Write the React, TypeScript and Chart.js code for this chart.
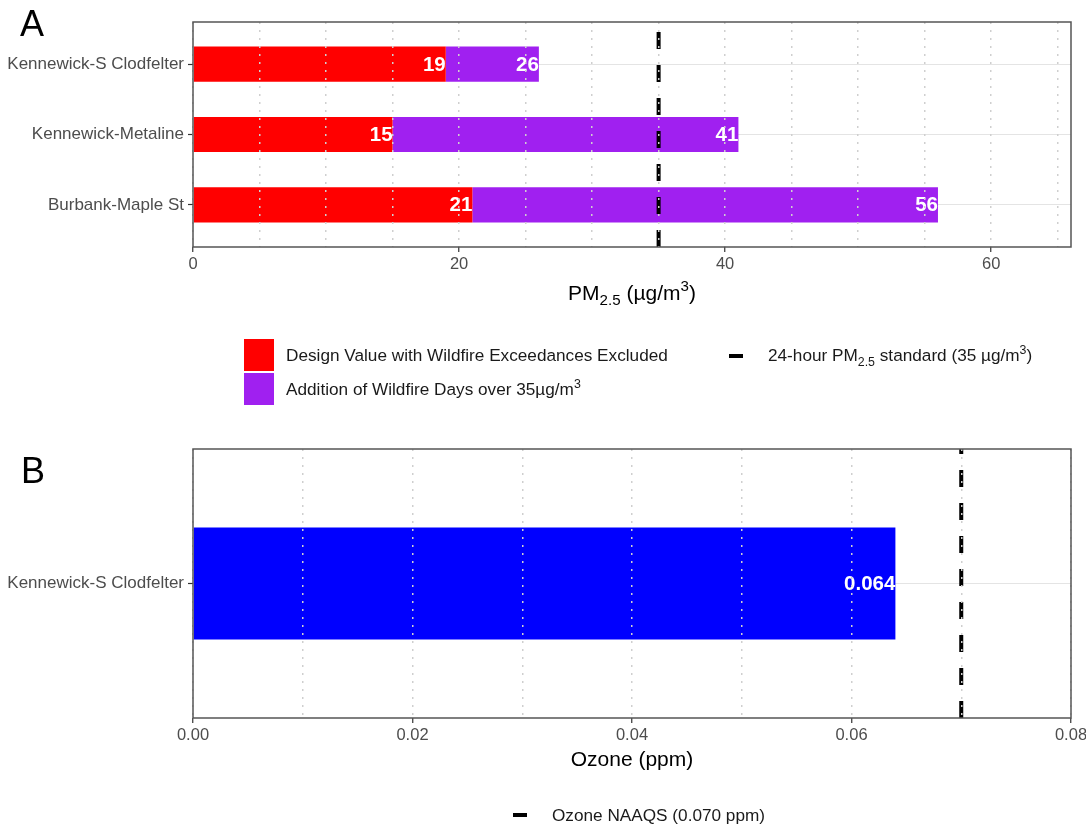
import { useEffect, useRef } from "react";
import { Chart, registerables } from "chart.js";

Chart.register(...registerables);

// ---- PM2.5 design values (µg/m³) ----
const pmSites = ["Kennewick-S Clodfelter", "Kennewick-Metaline", "Burbank-Maple St"];
const pmExcluded = [19, 15, 21];
const pmWithWildfire = [26, 41, 56];
const pmStandard = 35;
const pmAxisMax = 66;
const pmTickLabels = [0, 20, 40, 60];

// ---- Ozone design value (ppm) ----
const ozoneSites = ["Kennewick-S Clodfelter"];
const ozoneValues = [0.064];
const ozoneStandard = 0.07;
const ozoneAxisMax = 0.08;
const ozoneTickLabels = [0, 0.02, 0.04, 0.06, 0.08];

// ---- Text with sub/superscripts ----
type Seg = { t: string; k?: "sub" | "sup" };
const pmAxisTitle: Seg[] = [{ t: "PM" }, { t: "2.5", k: "sub" }, { t: " (µg/m" }, { t: "3", k: "sup" }, { t: ")" }];
const pmLegendExcluded: Seg[] = [{ t: "Design Value with Wildfire Exceedances Excluded" }];
const pmLegendWildfire: Seg[] = [{ t: "Addition of Wildfire Days over 35µg/m" }, { t: "3", k: "sup" }];
const pmLegendStandard: Seg[] = [
  { t: "24-hour PM" },
  { t: "2.5", k: "sub" },
  { t: " standard (35 µg/m" },
  { t: "3", k: "sup" },
  { t: ")" },
];
const ozoneAxisTitle: Seg[] = [{ t: "Ozone (ppm)" }];
const ozoneLegendStandard: Seg[] = [{ t: "Ozone NAAQS (0.070 ppm)" }];

const RED = "#FF0000";
const PURPLE = "#A020F0";
const BLUE = "#0000FF";
const FONT = '"Liberation Sans", Arial, Helvetica, sans-serif';
const TICK_TEXT = "#4d4d4d";
const BAR_WIDTH = 0.5; // bar thickness in category units
const CAT_PAD = 0.6; // space above first / below last category

function drawRich(ctx: CanvasRenderingContext2D, segs: Seg[], x: number, yMid: number, size: number, align: "left" | "center", color: string) {
  const small = size * 0.72;
  const widths = segs.map((s) => {
    ctx.font = `${s.k ? small : size}px ${FONT}`;
    return ctx.measureText(s.t).width;
  });
  const total = widths.reduce((a, b) => a + b, 0);
  let cx = align === "center" ? x - total / 2 : x;
  const base = yMid + size * 0.36;
  ctx.save();
  ctx.fillStyle = color;
  ctx.textAlign = "left";
  ctx.textBaseline = "alphabetic";
  segs.forEach((s, i) => {
    ctx.font = `${s.k ? small : size}px ${FONT}`;
    const dy = s.k === "sub" ? size * 0.28 : s.k === "sup" ? -size * 0.42 : 0;
    ctx.fillText(s.t, cx, base + dy);
    cx += widths[i];
  });
  ctx.restore();
}

function drawStandardLine(chart: any, value: number) {
  const { ctx, chartArea: a } = chart;
  const px = chart.scales.x.getPixelForValue(value);
  ctx.save();
  ctx.strokeStyle = "#000";
  ctx.lineWidth = 4;
  ctx.setLineDash([17, 16]);
  ctx.beginPath();
  ctx.moveTo(px, a.bottom);
  ctx.lineTo(px, a.top);
  ctx.stroke();
  ctx.restore();
}

function drawValueLabel(chart: any, text: string, value: number, index: number) {
  const { ctx } = chart;
  const px = chart.scales.x.getPixelForValue(value);
  const py = chart.scales.y.getPixelForValue(index);
  ctx.save();
  ctx.fillStyle = "#fff";
  ctx.font = `bold 20.5px ${FONT}`;
  ctx.textAlign = "right";
  ctx.textBaseline = "middle";
  ctx.fillText(text, px, py + 1);
  ctx.restore();
}

function drawBorder(chart: any) {
  const { ctx, chartArea: a } = chart;
  ctx.save();
  ctx.strokeStyle = "#555";
  ctx.lineWidth = 1.5;
  ctx.strokeRect(a.left, a.top, a.right - a.left, a.bottom - a.top);
  ctx.restore();
}

function drawPanelLetter(ctx: CanvasRenderingContext2D, letter: string, x: number, baseline: number) {
  ctx.save();
  ctx.fillStyle = "#000";
  ctx.font = `36px ${FONT}`;
  ctx.textAlign = "left";
  ctx.textBaseline = "alphabetic";
  ctx.fillText(letter, x, baseline);
  ctx.restore();
}

function drawDashKey(ctx: CanvasRenderingContext2D, x: number, y: number) {
  ctx.save();
  ctx.strokeStyle = "#000";
  ctx.lineWidth = 4;
  ctx.beginPath();
  ctx.moveTo(x, y);
  ctx.lineTo(x + 14, y);
  ctx.stroke();
  ctx.restore();
}

function categoryAxis(names: string[], width: number) {
  return {
    type: "linear" as const,
    reverse: true,
    offset: false,
    min: -CAT_PAD,
    max: names.length - 1 + CAT_PAD,
    afterBuildTicks: (s: any) => {
      s.ticks = names.map((_, i) => ({ value: i }));
    },
    afterFit: (s: any) => {
      s.width = width;
    },
    ticks: {
      autoSkip: false,
      padding: 4,
      color: TICK_TEXT,
      font: { family: FONT, size: 17 },
      callback: (v: number) => names[v] ?? "",
    },
    grid: { offset: false, color: "#e4e4e4", lineWidth: 1, tickLength: 5, tickColor: "#333", tickWidth: 1.2 },
    border: { display: false },
  };
}

function valueAxis(max: number, step: number, labels: number[], decimals: number, height: number) {
  const isLabelled = (v: number) => labels.some((l) => Math.abs(l - v) < step / 100);
  return {
    type: "linear" as const,
    min: 0,
    max,
    offset: false,
    afterFit: (s: any) => {
      s.height = height;
    },
    ticks: {
      stepSize: step,
      includeBounds: false,
      autoSkip: false,
      maxRotation: 0,
      padding: 3,
      color: TICK_TEXT,
      font: { family: FONT, size: 16.5 },
      callback: (v: number) => (isLabelled(v) ? v.toFixed(decimals) : ""),
    },
    grid: {
      z: 1,
      offset: false,
      color: "#cfcfcf",
      lineWidth: 1.5,
      tickLength: 5,
      tickWidth: 1.2,
      tickColor: (c: any) => (c.tick && isLabelled(c.tick.value) ? "#333" : "rgba(0,0,0,0)"),
    },
    border: { display: false, dash: [2, 6] },
  };
}

export default function App() {
  const refA = useRef<HTMLCanvasElement>(null);
  const refB = useRef<HTMLCanvasElement>(null);

  useEffect(() => {
    const chartA = new Chart(refA.current!, {
      type: "bar",
      data: {
        datasets: [
          {
            label: "Design Value with Wildfire Exceedances Excluded",
            data: pmExcluded.map((v, i) => ({ x: v, y: i })) as any,
            backgroundColor: RED,
          },
          {
            label: "Addition of Wildfire Days over 35µg/m3",
            data: pmExcluded.map((v, i) => ({ x: [v, pmWithWildfire[i]], y: i })) as any,
            backgroundColor: PURPLE,
          },
        ],
      },
      options: {
        indexAxis: "y",
        responsive: false,
        animation: false,
        events: [],
        datasets: { bar: { grouped: false, barPercentage: BAR_WIDTH, categoryPercentage: 1 } },
        layout: { padding: { top: 22, right: 39, left: 0, bottom: 0 } },
        scales: {
          x: valueAxis(pmAxisMax, 5, pmTickLabels, 0, 173) as any,
          y: categoryAxis(pmSites, 193) as any,
        },
        plugins: { legend: { display: false }, tooltip: { enabled: false } },
      },
      plugins: [
        {
          id: "pmDecor",
          afterDatasetsDraw(chart: any) {
            drawStandardLine(chart, pmStandard);
            pmSites.forEach((_, i) => {
              drawValueLabel(chart, String(pmExcluded[i]), pmExcluded[i], i);
              drawValueLabel(chart, String(pmWithWildfire[i]), pmWithWildfire[i], i);
            });
          },
          afterDraw(chart: any) {
            const { ctx, chartArea: a } = chart;
            drawBorder(chart);
            drawPanelLetter(ctx, "A", 20, 36);
            drawRich(ctx, pmAxisTitle, (a.left + a.right) / 2, 292, 21, "center", "#000");
            // legend
            ctx.save();
            ctx.fillStyle = RED;
            ctx.fillRect(244, 339, 30, 32);
            ctx.fillStyle = PURPLE;
            ctx.fillRect(244, 373, 30, 32);
            ctx.restore();
            drawRich(ctx, pmLegendExcluded, 286, 355, 17.2, "left", "#1a1a1a");
            drawRich(ctx, pmLegendWildfire, 286, 389, 17.2, "left", "#1a1a1a");
            drawDashKey(ctx, 729, 356);
            drawRich(ctx, pmLegendStandard, 768, 355, 17.2, "left", "#1a1a1a");
          },
        },
      ],
    });

    const chartB = new Chart(refB.current!, {
      type: "bar",
      data: {
        datasets: [
          {
            label: "Ozone",
            data: ozoneValues.map((v, i) => ({ x: v, y: i })) as any,
            backgroundColor: BLUE,
          },
        ],
      },
      options: {
        indexAxis: "y",
        responsive: false,
        animation: false,
        events: [],
        datasets: {
          bar: { grouped: false, barPercentage: BAR_WIDTH / (ozoneSites.length - 1 + 2 * CAT_PAD), categoryPercentage: 1 },
        },
        layout: { padding: { top: 29, right: 39, left: 0, bottom: 0 } },
        scales: {
          x: valueAxis(ozoneAxisMax, 0.01, ozoneTickLabels, 2, 110) as any,
          y: categoryAxis(ozoneSites, 193) as any,
        },
        plugins: { legend: { display: false }, tooltip: { enabled: false } },
      },
      plugins: [
        {
          id: "ozoneDecor",
          afterDatasetsDraw(chart: any) {
            drawStandardLine(chart, ozoneStandard);
            ozoneSites.forEach((_, i) => {
              drawValueLabel(chart, ozoneValues[i].toFixed(3), ozoneValues[i], i);
            });
          },
          afterDraw(chart: any) {
            const { ctx, chartArea: a } = chart;
            drawBorder(chart);
            drawPanelLetter(ctx, "B", 21, 63);
            drawRich(ctx, ozoneAxisTitle, (a.left + a.right) / 2, 338, 21, "center", "#000");
            drawDashKey(ctx, 513, 395);
            drawRich(ctx, ozoneLegendStandard, 552, 395, 17.2, "left", "#1a1a1a");
          },
        },
      ],
    });

    return () => {
      chartA.destroy();
      chartB.destroy();
    };
  }, []);

  return (
    <div
      style={{
        position: "absolute",
        left: 0,
        top: 0,
        width: 1086,
        height: 828,
        overflow: "hidden",
        background: "#fff",
      }}
    >
      <canvas ref={refA} width={1110} height={420} style={{ position: "absolute", left: 0, top: 0 }} />
      <canvas ref={refB} width={1110} height={408} style={{ position: "absolute", left: 0, top: 420 }} />
    </div>
  );
}
